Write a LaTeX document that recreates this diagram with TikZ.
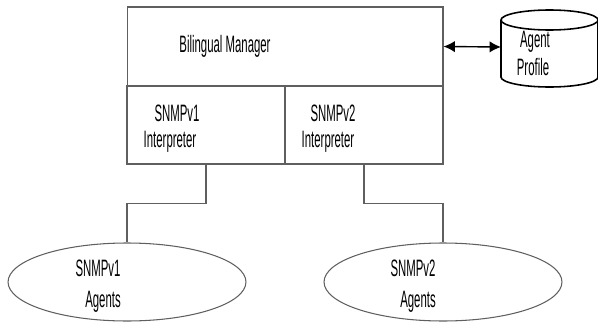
\documentclass[tikz,border=0pt]{standalone}
\usepackage{fontspec}
\setmainfont{Liberation Sans}[FakeStretch=0.48]
\usepackage{xcolor}
\usetikzlibrary{arrows.meta}
\usetikzlibrary{shapes.geometric}
\usetikzlibrary{math}

\definecolor{linegray}{RGB}{95,95,95}

\tikzset{
 box/.style={draw=linegray, line width=0.6pt, rectangle, inner sep=0pt},
 agentblob/.style={draw=linegray, line width=0.6pt, ellipse, inner sep=0pt,
   minimum width=4.76cm, minimum height=1.56cm},
 txt/.style={font=\fontsize{13.5}{15}\selectfont, inner sep=0pt},
}

\begin{document}
\begin{tikzpicture}[x=0.02cm,y=-0.02cm]
\tikzmath{
\drop=39;
\cx=549.5; \rx=48.5; \ry=10;
}
\useasboundingbox (0,0) rectangle (598,321);

 %manager box:
 \node[box, minimum width=6.32cm, minimum height=1.58cm] (manager) at (285,46.5) {};
 \node[box, minimum width=3.16cm, minimum height=1.56cm] (v1interp) at (206,125) {};
 \node[box, minimum width=3.16cm, minimum height=1.56cm] (v2interp) at (364,125) {};

 %agent profile (drum)
 \coordinate (profile) at (\cx-\rx,47);
 \draw[line width=0.9pt] (\cx-\rx,20) -- (\cx-\rx,77)
   arc[start angle=180, end angle=0, x radius=\rx, y radius=\ry] -- (\cx+\rx,20);
 \draw[line width=0.9pt] (\cx,20) ellipse[x radius=\rx, y radius=\ry];

 %agents
 \node[agentblob] (v1agents) at (127,282) {};
 \node[agentblob] (v2agents) at (443,282) {};

 %texts
 \node[txt] (managertext) at (225,46) {Bilingual Manager};
 \node[txt] (v1name) at (177,113) {SNMPv1};
 \node[txt] (v1role) at (170,142) {Interpreter};
 \node[txt] (v2name) at (333,113) {SNMPv2};
 \node[txt] (v2role) at (328,142) {Interpreter};
 \node[txt] (v1agname) at (98,268) {SNMPv1};
 \node[txt] (v1agrole) at (103,302) {Agents};
 \node[txt] (v2agname) at (413,268) {SNMPv2};
 \node[txt] (v2agrole) at (418,302) {Agents};
 \node[txt] (proftop) at (535,42) {Agent};
 \node[txt] (profbot) at (533,67) {Profile};

 %links
 \draw[{Latex[length=6.5pt,width=6.5pt]}-{Latex[length=6.5pt,width=6.5pt]}, line width=0.8pt] (manager.east) -- (profile);
 \draw[linegray, line width=0.6pt] (v1interp.south) -- ++(0,\drop) -| (v1agents.north);
 \draw[linegray, line width=0.6pt] (v2interp.south) -- ++(0,\drop) -| (v2agents.north);
\end{tikzpicture}
\end{document}
